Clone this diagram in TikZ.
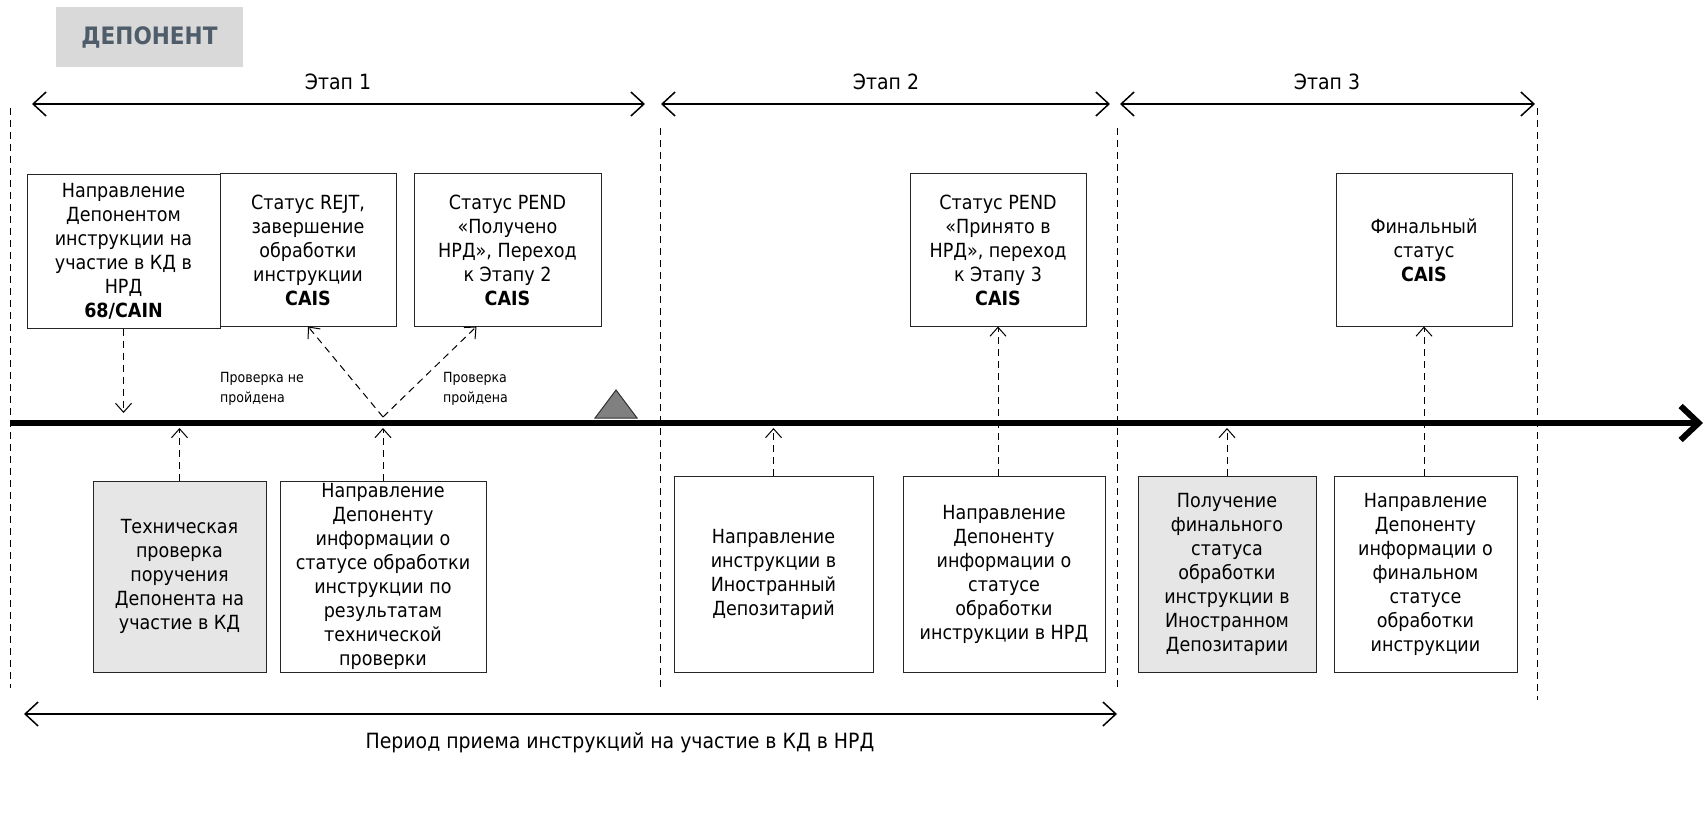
\documentclass[tikz,border=0pt]{standalone}
\usepackage{fontspec}
\setmainfont{DejaVu Sans Condensed}
\usetikzlibrary{arrows.meta}
\definecolor{boxgray}{HTML}{E6E6E6}
\definecolor{headgray}{HTML}{D9D9D9}
\definecolor{headtext}{HTML}{4F5D6B}
\definecolor{markgray}{HTML}{808080}

\begin{document}
\begin{tikzpicture}
[every node/.style={inner sep=0pt},
 box/.style={rectangle, draw=black!85, line width=1pt, align=center, font=\fontsize{19.5}{24}\selectfont},
 link/.style={line width=1pt, dash pattern=on 7pt off 5pt, -{Straight Barb[length=9pt,width=16pt]}},
 border/.style={line width=1pt, dash pattern=on 7pt off 5pt},
 span/.style={line width=1.5pt, {Straight Barb[length=13pt,width=24pt]}-{Straight Barb[length=13pt,width=24pt]}},
 caption/.style={font=\fontsize{21}{25}\selectfont},
 note/.style={align=left, anchor=north west, font=\fontsize{14}{20}\selectfont}]
\useasboundingbox (0pt, 0pt) rectangle (1707pt, -821pt);
\node (dep) [fill=headgray, minimum width=187pt, minimum height=60pt, text=headtext, font=\fontsize{24}{28}\selectfont\bfseries] at (149.5pt, -37pt) {ДЕПОНЕНТ};
\node (stage1) [caption] at (338pt, -82pt) {Этап 1};
\node (stage2) [caption] at (886pt, -82pt) {Этап 2};
\node (stage3) [caption] at (1327pt, -82pt) {Этап 3};
\coordinate (s1a) at (32pt, -104pt);
\coordinate (s1b) at (645pt, -104pt);
\coordinate (s2a) at (661pt, -104pt);
\coordinate (s2b) at (1110pt, -104pt);
\coordinate (s3a) at (1120pt, -104pt);
\coordinate (s3b) at (1535pt, -104pt);
\draw [span] (s1a) to (s1b);
\draw [span] (s2a) to (s2b);
\draw [span] (s3a) to (s3b);
\draw [border] (10pt, -108pt) to (10pt, -688pt);
\draw [border] (660pt, -128pt) to (660pt, -688pt);
\draw [border] (1117pt, -128pt) to (1117pt, -688pt);
\draw [border] (1537pt, -108pt) to (1537pt, -700pt);
\node (req) [box, minimum width=193pt, minimum height=153pt] at (123.5pt, -251.5pt) {Направление\\Депонентом\\инструкции на\\участие в КД в\\НРД\\\textbf{68/CAIN}};
\node (rejt) [box, minimum width=176pt, minimum height=152pt] at (308pt, -250pt) {Статус REJT,\\завершение\\обработки\\инструкции\\\textbf{CAIS}};
\node (pend1) [box, minimum width=187pt, minimum height=152pt] at (507.5pt, -250pt) {Статус PEND\\«Получено\\НРД», Переход\\к Этапу 2\\\textbf{CAIS}};
\node (pend2) [box, minimum width=176pt, minimum height=152pt] at (998pt, -250pt) {Статус PEND\\«Принято в\\НРД», переход\\к Этапу 3\\\textbf{CAIS}};
\node (status) [box, minimum width=176pt, minimum height=152pt] at (1424pt, -250pt) {Финальный\\статус\\\textbf{CAIS}};
\node (check) [box, fill=boxgray, minimum width=173pt, minimum height=191pt] at (179.5pt, -576.5pt) {Техническая\\проверка\\поручения\\Депонента на\\участие в КД};
\node (reply) [box, minimum width=206pt, minimum height=191pt] at (383pt, -576.5pt) {Направление\\Депоненту\\информации о\\статусе обработки\\инструкции по\\результатам\\технической\\проверки};
\node (send) [box, minimum width=199pt, minimum height=196pt] at (773.5pt, -574pt) {Направление\\инструкции в\\Иностранный\\Депозитарий};
\node (info) [box, minimum width=202pt, minimum height=196pt] at (1004pt, -574pt) {Направление\\Депоненту\\информации о\\статусе\\обработки\\инструкции в НРД};
\node (final) [box, fill=boxgray, minimum width=178pt, minimum height=196pt] at (1227pt, -574pt) {Получение\\финального\\статуса\\обработки\\инструкции в\\Иностранном\\Депозитарии};
\node (notify) [box, minimum width=183pt, minimum height=196pt] at (1425.5pt, -574pt) {Направление\\Депоненту\\информации о\\финальном\\статусе\\обработки\\инструкции};
\coordinate (tl0) at (10pt, -423pt);
\coordinate (tl1) at (1703pt, -423pt);
\coordinate (tlhi) at (0pt, -413pt);
\coordinate (tllo) at (0pt, -428pt);
\coordinate (fork) at (383pt, -417pt);
\draw [line width=6pt, -{Straight Barb[length=18pt,width=34pt]}] (tl0) to (tl1);
\filldraw [fill=markgray, draw=black!80, line width=1pt] (595pt, -418pt) -- (616pt, -390pt) -- (637pt, -418pt) -- cycle;
\node (fail) [note] at (220pt, -372pt) {Проверка не\\пройдена};
\node (pass) [note] at (443pt, -372pt) {Проверка\\пройдена};
\draw [link] (req.south) to (req.south |- tlhi);
\draw [link] (check.north) to (check.north |- tllo);
\draw [link] (reply.north) to (reply.north |- tllo);
\draw [link] (fork) to (rejt.south);
\draw [link] (fork) to ([xshift=-31pt]pend1.south);
\draw [link] (send.north) to (send.north |- tllo);
\draw [link] (pend2.south |- info.north) to (pend2.south);
\draw [link] (final.north) to (final.north |- tllo);
\draw [link] (status.south |- notify.north) to (status.south);
\coordinate (p0) at (24pt, -714pt);
\coordinate (p1) at (1117pt, -714pt);
\draw [span] (p0) to (p1);
\node (period) [caption] at (620pt, -743pt) {Период приема инструкций на участие в КД в НРД};

\end{tikzpicture}
\end{document}
